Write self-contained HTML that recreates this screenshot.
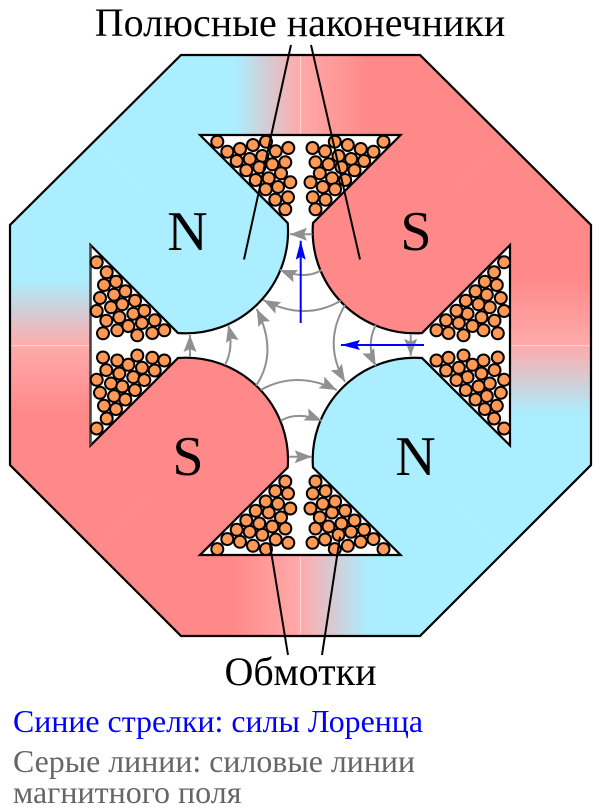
<!DOCTYPE html>
<html><head><meta charset="utf-8"><style>html,body{margin:0;padding:0;background:#fff}svg{display:block}text{font-family:"Liberation Serif",serif}</style></head><body>
<svg xmlns="http://www.w3.org/2000/svg" width="600" height="812" viewBox="0 0 600 812">
<defs>
<linearGradient id="gt" gradientUnits="userSpaceOnUse" x1="235" y1="0" x2="370" y2="0"><stop offset="0" stop-color="#aaeeff"/><stop offset=".48" stop-color="#ffaaaa"/><stop offset="1" stop-color="#ff8888"/></linearGradient>
<linearGradient id="gb" gradientUnits="userSpaceOnUse" x1="230" y1="0" x2="368" y2="0"><stop offset="0" stop-color="#ff8888"/><stop offset=".51" stop-color="#ffaaaa"/><stop offset="1" stop-color="#aaeeff"/></linearGradient>
<linearGradient id="gl" gradientUnits="userSpaceOnUse" x1="0" y1="280" x2="0" y2="415"><stop offset="0" stop-color="#aaeeff"/><stop offset=".49" stop-color="#ffaaaa"/><stop offset="1" stop-color="#ff8888"/></linearGradient>
<linearGradient id="gr" gradientUnits="userSpaceOnUse" x1="0" y1="275" x2="0" y2="415"><stop offset="0" stop-color="#ff8888"/><stop offset=".5" stop-color="#ffaaaa"/><stop offset="1" stop-color="#aaeeff"/></linearGradient>
<clipPath id="oc"><polygon points="181,55 420,55 591,225 591,465 420,636 181,636 10,465 10,225"/></clipPath>
<marker id="ga" markerUnits="userSpaceOnUse" markerWidth="20" markerHeight="16" refX="17" refY="8" orient="auto"><path d="M17,8 L0,1.5 L3,8 L0,14.5 Z" fill="#909090"/></marker>
<marker id="ba" markerUnits="userSpaceOnUse" markerWidth="20" markerHeight="14" refX="19" refY="7" orient="auto"><path d="M19,7 L0,2 L3,7 L0,12 Z" fill="#00f"/></marker>
<g id="c" fill="#ff9955" stroke="#000" stroke-width="2">
<circle cx="217.3" cy="141.7" r="6"/><circle cx="227.3" cy="151.7" r="6"/><circle cx="240" cy="149" r="6"/><circle cx="253" cy="145" r="6"/><circle cx="266" cy="141.7" r="6"/><circle cx="275.7" cy="151.3" r="6"/><circle cx="288.3" cy="148" r="6"/><circle cx="236.7" cy="161" r="6"/><circle cx="249.7" cy="159" r="6"/><circle cx="262.3" cy="156" r="6"/><circle cx="285.3" cy="162.3" r="6"/><circle cx="272.3" cy="164.3" r="6"/><circle cx="246.3" cy="170.3" r="6"/><circle cx="259.3" cy="167.3" r="6"/><circle cx="281" cy="173.3" r="6"/><circle cx="255.7" cy="180" r="6"/><circle cx="268.7" cy="178.3" r="6"/><circle cx="290.3" cy="182.3" r="6"/><circle cx="265.7" cy="189.3" r="6"/><circle cx="278" cy="187" r="6"/><circle cx="275.3" cy="199.7" r="6"/><circle cx="288" cy="197.3" r="6"/><circle cx="285.3" cy="209.3" r="6"/>
</g>
</defs>
<g clip-path="url(#oc)">
<polygon points="300.4,345.4 -50,-5 651,-5" fill="url(#gt)"/>
<polygon points="300.4,345.4 -50,696 651,696" fill="url(#gb)"/>
<polygon points="300.4,345.4 -50,-5 -50,696" fill="url(#gl)"/>
<polygon points="300.4,345.4 651,-5 651,696" fill="url(#gr)"/>
<path d="M300.4,55V135M300.4,555V636M10,345.6H90M510,345.6H591" stroke="#ffd5d5" stroke-width="1" fill="none"/>
<path d="M200,135 L287.7,223 A102,102 0 0 1 178,333 L90.5,245 Z" fill="#aaeeff"/>
<path d="M400.6,135 L313,223 A102,102 0 0 0 422,333 L510,245 Z" fill="#ff8888"/>
<path d="M200,555 L287.7,467.5 A102,102 0 0 0 178,358 L90.5,445.5 Z" fill="#ff8888"/>
<path d="M400.6,555 L313,467.5 A102,102 0 0 1 422,358 L510,445.5 Z" fill="#aaeeff"/>
</g>
<polygon points="181,55 420,55 591,225 591,465 420,636 181,636 10,465 10,225" fill="none" stroke="#000" stroke-width="2.2"/>
<path d="M200,135 L400.6,135 L313,223 A102,102 0 0 0 422,333 L510,245 L510,445.5 L422,358 A102,102 0 0 0 313,467.5 L400.6,555 L200,555 L287.7,467.5 A102,102 0 0 0 178,358 L90.5,445.5 L90.5,245 L178,333 A102,102 0 0 0 287.7,223 Z" fill="#fff" stroke="#000" stroke-width="2.2" stroke-linejoin="miter"/>
<path d="M90.5,245V445.5" stroke="#444" stroke-width="2.4"/>
<use href="#c"/>
<use href="#c" transform="matrix(-1 0 0 1 600.8 0)"/>
<use href="#c" transform="matrix(1 0 0 -1 0 690.8)"/>
<use href="#c" transform="matrix(-1 0 0 -1 600.8 690.8)"/>
<g transform="rotate(90 300.4 345.4)"><use href="#c"/><use href="#c" transform="matrix(-1 0 0 1 600.8 0)"/></g>
<g transform="rotate(-90 300.4 345.4)"><use href="#c"/><use href="#c" transform="matrix(-1 0 0 1 600.8 0)"/></g>
<g fill="none" stroke="#909090" stroke-width="2">
<path d="M312.3,234.3 L290,234.3" marker-end="url(#ga)"/>
<path d="M321.7,270 Q305.8,280 280,270" marker-end="url(#ga)"/>
<path d="M340.7,300.7 Q304.7,321.7 263.3,300" marker-end="url(#ga)"/>
<path d="M345,305 Q322.4,343.3 345,381.7" marker-end="url(#ga)"/>
<path d="M375.7,325 Q365.7,345.5 375.7,366" marker-end="url(#ga)"/>
<path d="M410.7,334 L410.7,355.7" marker-end="url(#ga)"/>
<path d="M190,356.7 L190,335" marker-end="url(#ga)"/>
<path d="M225,365 Q234,348.3 228.3,325" marker-end="url(#ga)"/>
<path d="M256,385.7 Q278.5,352.7 256.7,309" marker-end="url(#ga)"/>
<path d="M260.7,390 Q296.3,370 336.7,390" marker-end="url(#ga)"/>
<path d="M280.7,420.7 Q297,411 321.7,420.7" marker-end="url(#ga)"/>
<path d="M289.3,456.7 L311.7,456.7" marker-end="url(#ga)"/>
</g>
<path d="M300.7,323 L300.7,240.7" stroke="#00f" stroke-width="2" fill="none" marker-end="url(#ba)"/>
<path d="M424,345 L341,345" stroke="#00f" stroke-width="2" fill="none" marker-end="url(#ba)"/>
<path d="M291,45 L244,259.5 M311,45 L360,259.5 M270,545 L288,655 M340,536.7 L322,655" stroke="#000" stroke-width="2" fill="none"/>
<text x="300" y="36" text-anchor="middle" font-size="40">Полюсные наконечники</text>
<text x="300.5" y="685" text-anchor="middle" font-size="40">Обмотки</text>
<text x="187.5" y="250" text-anchor="middle" font-size="56">N</text>
<text x="416" y="250" text-anchor="middle" font-size="56">S</text>
<text x="415.5" y="475" text-anchor="middle" font-size="56">N</text>
<text x="188" y="475" text-anchor="middle" font-size="56">S</text>
<text x="13" y="732" font-size="32" fill="#00f" textLength="410" lengthAdjust="spacingAndGlyphs">Синие стрелки: силы Лоренца</text>
<text x="13" y="772" font-size="32" fill="#666" textLength="402" lengthAdjust="spacingAndGlyphs">Серые линии: силовые линии</text>
<text x="13" y="803" font-size="32" fill="#666">магнитного поля</text>
</svg>
</body></html>
